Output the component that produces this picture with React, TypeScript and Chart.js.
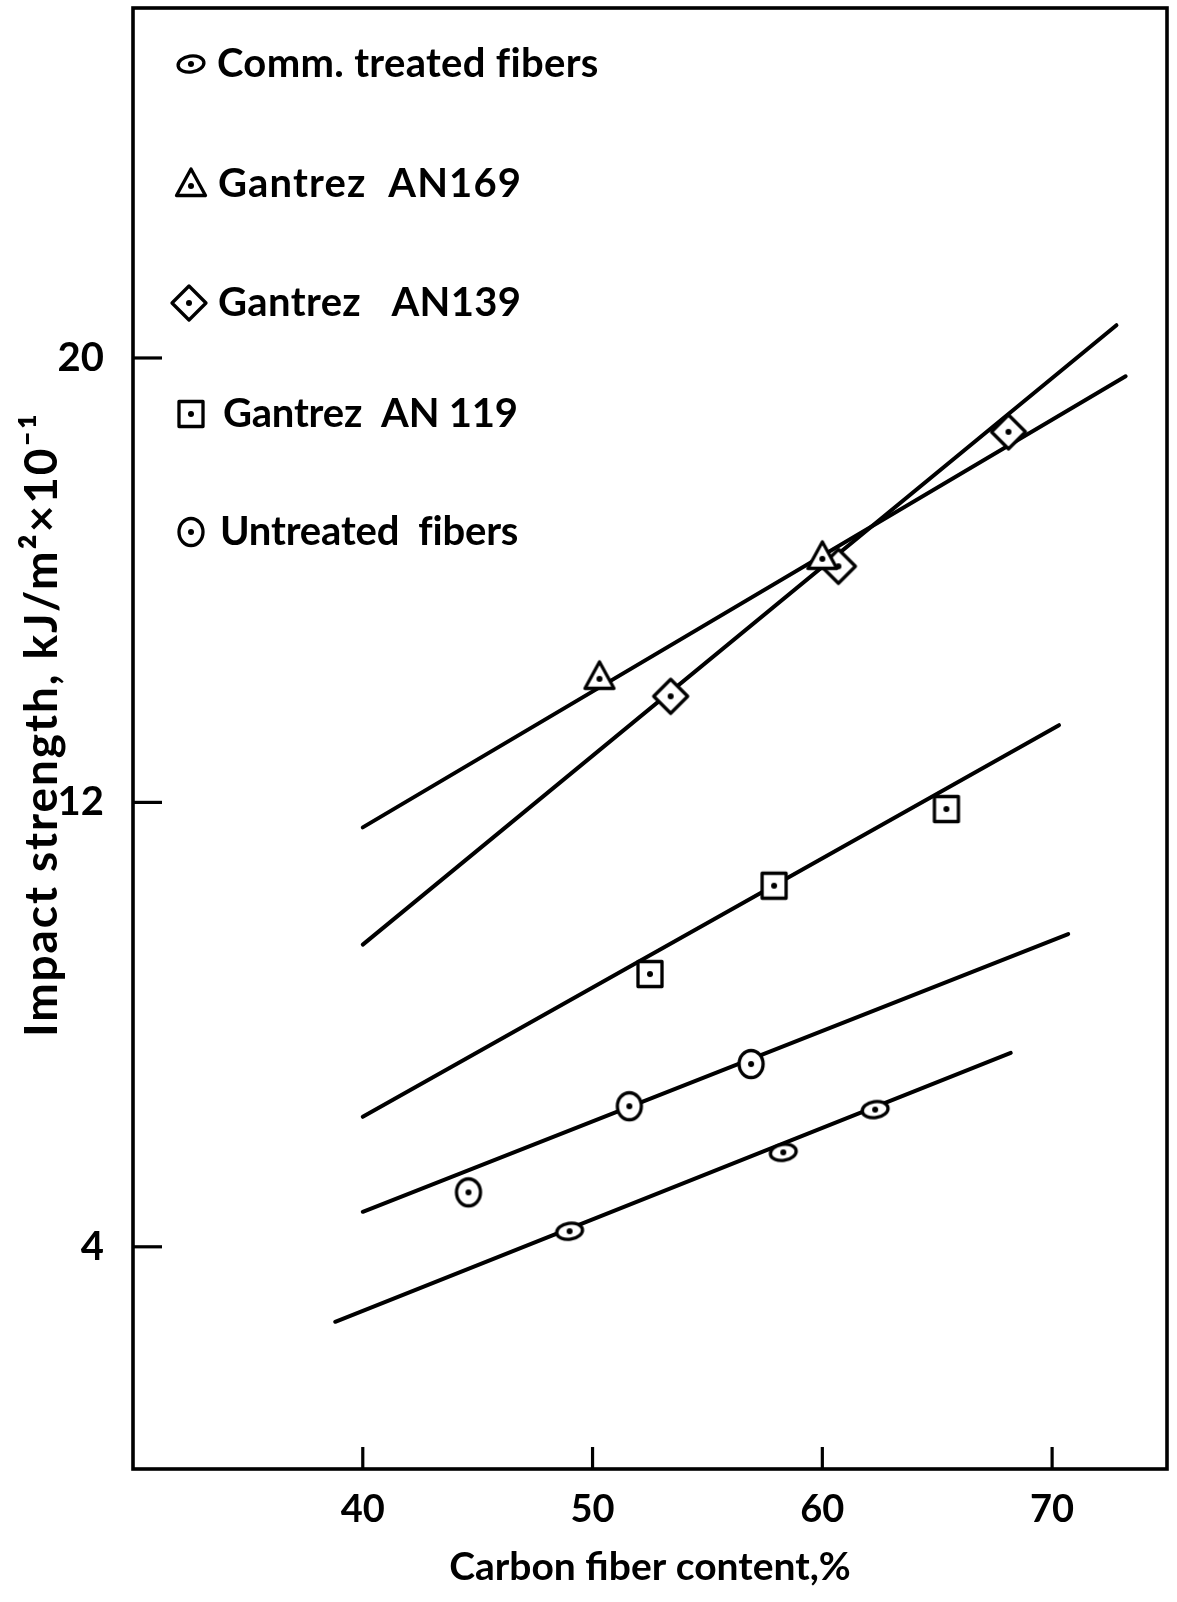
import React, { useEffect, useRef } from "react";
import { Chart, registerables } from "chart.js";

Chart.register(...registerables);

// ---- axis ticks ----
const xTicks = [40, 50, 60, 70];
const yTicks = [4, 12, 20];
const xTitle = "Carbon fiber content,%";
const yTitle = "Impact strength, kJ/m²×10⁻¹";

// ---- legend ----
const seriesNames = [
  "Comm. treated fibers",
  "Gantrez  AN169",
  "Gantrez   AN139",
  "Gantrez  AN 119",
  "Untreated  fibers",
];
const seriesMarkers = ["eye", "triangle", "diamond", "square", "circle"];

// ---- measured points ----
const commX = [49.0, 58.3, 62.3];
const commY = [4.28, 5.7, 6.47];
const an169X = [50.3, 60.0];
const an169Y = [14.26, 16.42];
const an139X = [53.4, 60.7, 68.1];
const an139Y = [13.91, 16.25, 18.67];
const an119X = [52.5, 57.9, 65.4];
const an119Y = [8.91, 10.5, 11.88];
const untreatedX = [44.6, 51.6, 56.9];
const untreatedY = [4.98, 6.53, 7.29];

// ---- fitted lines (end points) ----
const commLineX = [38.8, 68.2];
const commLineY = [2.65, 7.49];
const an169LineX = [40, 73.2];
const an169LineY = [11.55, 19.67];
const an139LineX = [40, 72.8];
const an139LineY = [9.44, 20.59];
const an119LineX = [40, 70.3];
const an119LineY = [6.34, 13.39];
const untreatedLineX = [40, 70.7];
const untreatedLineY = [4.63, 9.63];

const FONT = "Lato, 'DejaVu Sans', sans-serif";

function makeMarker(kind: string): HTMLCanvasElement {
  const c = document.createElement("canvas");
  const w = 42;
  const h = 42;
  c.width = w;
  c.height = h;
  const g = c.getContext("2d")!;
  g.translate(w / 2, h / 2);
  g.lineWidth = 3.3;
  g.strokeStyle = "#000";
  g.fillStyle = "#fff";
  g.lineJoin = "round";
  g.beginPath();
  let dy = 0;
  switch (kind) {
    case "eye":
      g.ellipse(0, 0, 13, 8, -0.15, 0, Math.PI * 2);
      break;
    case "circle":
      g.ellipse(0, 0, 12, 13.5, 0, 0, Math.PI * 2);
      break;
    case "triangle":
      g.moveTo(0, -15);
      g.lineTo(14.5, 11.5);
      g.lineTo(-14.5, 11.5);
      g.closePath();
      dy = 2;
      break;
    case "diamond":
      g.moveTo(0, -17);
      g.lineTo(17, 0);
      g.lineTo(0, 17);
      g.lineTo(-17, 0);
      g.closePath();
      break;
    case "square":
      g.rect(-12, -12.5, 24, 25);
      break;
  }
  g.fill();
  g.stroke();
  g.beginPath();
  g.fillStyle = "#000";
  g.arc(0, dy, 3, 0, Math.PI * 2);
  g.fill();
  return c;
}

function pts(xs: number[], ys: number[]) {
  return xs.map((x, i) => ({ x, y: ys[i] }));
}

function fitText(c: any, text: string, x: number, y: number, target: number) {
  c.letterSpacing = "0px";
  const w = c.measureText(text).width;
  const ls = (target - w) / Math.max(1, text.length - 1);
  c.letterSpacing = ls.toFixed(2) + "px";
  c.fillText(text, x, y);
  c.letterSpacing = "0px";
}

export default function App() {
  const ref = useRef<HTMLCanvasElement | null>(null);

  useEffect(() => {
    document.body.style.margin = "0";
    const canvas = ref.current;
    if (!canvas) return;
    const markers: Record<string, HTMLCanvasElement> = {};
    seriesMarkers.forEach((k) => (markers[k] = makeMarker(k)));

    const pointSeries = [
      pts(commX, commY),
      pts(an169X, an169Y),
      pts(an139X, an139Y),
      pts(an119X, an119Y),
      pts(untreatedX, untreatedY),
    ];
    const lineSeries = [
      pts(commLineX, commLineY),
      pts(an169LineX, an169LineY),
      pts(an139LineX, an139LineY),
      pts(an119LineX, an119LineY),
      pts(untreatedLineX, untreatedLineY),
    ];

    const datasets: any[] = [];
    pointSeries.forEach((d, i) => {
      datasets.push({
        label: seriesNames[i],
        data: d,
        showLine: false,
        pointStyle: markers[seriesMarkers[i]],
        pointRadius: 15,
        borderColor: "#000",
        backgroundColor: "#fff",
      });
    });
    lineSeries.forEach((d, i) => {
      datasets.push({
        label: seriesNames[i] + " fit",
        data: d,
        showLine: true,
        pointRadius: 0,
        borderColor: "#000",
        borderWidth: 4,
        borderCapStyle: "round",
        fill: false,
      });
    });

    const legendRowY = [64, 184, 303, 414, 532];
    const legendMarkerX = [191, 191, 189, 191, 191];
    const legendTextX = [217, 218, 218, 223, 220];
    const legendTextW = [381, 303, 303, 295, 298];

    const framePlugin = {
      id: "frame",
      beforeDraw(chart: any) {
        const c = chart.ctx;
        c.save();
        c.fillStyle = "#fff";
        c.fillRect(0, 0, chart.width, chart.height);
        c.restore();
      },
      afterDraw(chart: any) {
        const c = chart.ctx;
        const a = chart.chartArea;
        const xs = chart.scales.x;
        const ys = chart.scales.y;
        c.save();
        c.strokeStyle = "#000";
        c.lineWidth = 3.6;
        c.strokeRect(a.left, a.top, a.right - a.left, a.bottom - a.top);
        c.lineWidth = 3.2;
        xTicks.forEach((v) => {
          const px = xs.getPixelForValue(v);
          c.beginPath();
          c.moveTo(px, a.bottom);
          c.lineTo(px, a.bottom - 22);
          c.stroke();
        });
        yTicks.forEach((v) => {
          const py = ys.getPixelForValue(v);
          c.beginPath();
          c.moveTo(a.left, py);
          c.lineTo(a.left + 29, py);
          c.stroke();
        });
        // legend
        c.fillStyle = "#000";
        c.font = `bold 40px ${FONT}`;
        c.textBaseline = "middle";
        c.textAlign = "left";
        seriesNames.forEach((name, i) => {
          const img = markers[seriesMarkers[i]];
          const cy = legendRowY[i];
          const cx = legendMarkerX[i];
          c.drawImage(img, cx - img.width / 2, cy - img.height / 2);
          fitText(c, name, legendTextX[i], cy, legendTextW[i]);
        });
        // y-axis title
        c.save();
        c.translate(57, 1037);
        c.rotate(-Math.PI / 2);
        c.font = `bold 46px ${FONT}`;
        c.textAlign = "left";
        c.textBaseline = "alphabetic";
        fitText(c, yTitle, 0, 0, 623);
        c.restore();
        c.restore();
      },
    };

    const zeroPad = (s: any) => {
      s.paddingTop = 0;
      s.paddingBottom = 0;
      s.paddingLeft = 0;
      s.paddingRight = 0;
    };

    const chart = new Chart(canvas, {
      type: "scatter",
      data: { datasets },
      options: {
        animation: false,
        responsive: true,
        maintainAspectRatio: false,
        layout: { autoPadding: false, padding: { top: 8, right: 10, left: 0, bottom: 0 } },
        plugins: {
          legend: { display: false },
          tooltip: { enabled: false },
        },
        scales: {
          x: {
            type: "linear",
            min: 30,
            max: 75,
            afterBuildTicks: (s: any) => {
              s.ticks = xTicks.map((v) => ({ value: v }));
            },
            afterFit: (s: any) => {
              s.height = 133;
              zeroPad(s);
            },
            grid: { display: false, drawTicks: false },
            border: { display: false },
            ticks: {
              color: "#000",
              font: { family: FONT, size: 38, weight: "bold" },
              padding: 18,
              maxRotation: 0,
              autoSkip: false,
            },
            title: {
              display: true,
              text: xTitle,
              color: "#000",
              font: { family: FONT, size: 39, weight: "bold" },
              padding: { top: 0, bottom: 11 },
            },
          },
          y: {
            type: "linear",
            min: 0,
            max: 26.3,
            afterBuildTicks: (s: any) => {
              s.ticks = yTicks.map((v) => ({ value: v }));
            },
            afterFit: (s: any) => {
              s.width = 133;
              zeroPad(s);
            },
            grid: { display: false, drawTicks: false },
            border: { display: false },
            ticks: {
              color: "#000",
              font: { family: FONT, size: 40, weight: "bold" },
              padding: 29,
              autoSkip: false,
            },
            title: { display: false },
          },
        },
      } as any,
      plugins: [framePlugin],
    });

    return () => chart.destroy();
  }, []);

  return (
    <div style={{ position: "absolute", left: 0, top: 0, width: 1177, height: 1602, background: "#fff" }}>
      <canvas ref={ref} />
    </div>
  );
}
